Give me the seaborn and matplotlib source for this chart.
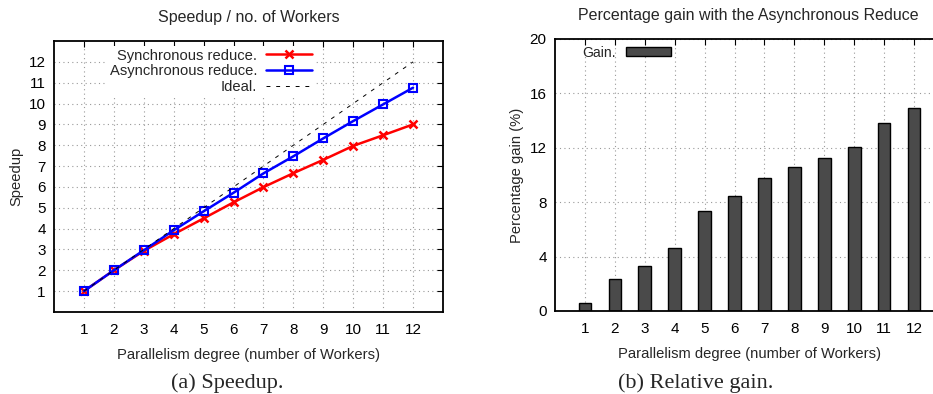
import matplotlib
matplotlib.use("Agg")
import matplotlib.pyplot as plt
import seaborn as sns
import pandas as pd
import numpy as np

workers = [1, 2, 3, 4, 5, 6, 7, 8, 9, 10, 11, 12]
sync_speedup = [1.0, 2.0, 2.93, 3.73, 4.49, 5.26, 5.99, 6.66, 7.30, 7.97, 8.48, 9.0]
async_speedup = [1.0, 2.0, 2.96, 3.92, 4.83, 5.72, 6.65, 7.47, 8.33, 9.16, 9.96, 10.76]
ideal = [1, 2, 3, 4, 5, 6, 7, 8, 9, 10, 11, 12]
gain = [0.59, 2.35, 3.33, 4.61, 7.33, 8.43, 9.75, 10.59, 11.23, 12.04, 13.80, 14.90]

sns.set_theme(style="white")
plt.rcParams['font.family'] = ['Liberation Sans', 'DejaVu Sans']

fig = plt.figure(figsize=(9.33, 3.94), dpi=100)
ax1 = fig.add_axes([54/933, 82/394, 389/933, 271/394])
ax2 = fig.add_axes([555/933, 83/394, 389/933, 272/394])

fs_tick = 11
fs_lab = 10.6
fs_title = 11.5

def style_axes(ax):
    for s in ax.spines.values():
        s.set_visible(True)
        s.set_color('black')
        s.set_linewidth(1.3)
    ax.tick_params(direction='in', length=4, width=0.8, top=True, right=True,
                   labelsize=fs_tick, colors='black', pad=6)
    ax.tick_params(axis='x', pad=8)
    ax.grid(True, color='#999999', linestyle=(0, (1, 3)), linewidth=0.8)
    ax.set_axisbelow(True)

# Left: speedup
df = pd.DataFrame({'w': workers, 'sync': sync_speedup, 'async': async_speedup, 'ideal': ideal})
sns.lineplot(data=df, x='w', y='sync', ax=ax1, color='#ff0000', linewidth=1.8,
             marker='x', markersize=6, markeredgewidth=1.8, markeredgecolor='#ff0000',
             label='Synchronous reduce.')
sns.lineplot(data=df, x='w', y='async', ax=ax1, color='#0000ff', linewidth=1.8,
             marker='s', markersize=6.3, markeredgewidth=1.5, markerfacecolor='none',
             markeredgecolor='#0000ff', label='Asynchronous reduce.')
sns.lineplot(data=df, x='w', y='ideal', ax=ax1, color='black', linewidth=0.7,
             linestyle=(0, (4, 6)), label='Ideal.')
ax1.set_xlim(0, 13)
ax1.set_ylim(0, 13)
ax1.set_xticks(workers)
ax1.set_yticks(list(range(1, 13)))
style_axes(ax1)
ax1.set_xlabel('Parallelism degree (number of Workers)', fontsize=fs_lab, labelpad=8)
ax1.set_ylabel('Speedup', fontsize=fs_lab, labelpad=4)
ax1.set_title('Speedup / no. of Workers', fontsize=fs_title, pad=14)
leg = ax1.legend(loc='upper right', bbox_to_anchor=((322 - 54) / 389, 1.01), markerfirst=False,
                 frameon=True, facecolor='white', edgecolor='none', framealpha=1,
                 fontsize=fs_lab, handlelength=3.1, labelspacing=0.12, borderpad=0.2,
                 handletextpad=0.6)
leg._legend_box.align = 'right'

# Right: gain bars
dg = pd.DataFrame({'w': workers, 'gain': gain})
sns.barplot(data=dg, x='w', y='gain', ax=ax2, native_scale=True, width=0.42,
            color='#4a4a4a', saturation=1, edgecolor='black', linewidth=1.0,
            label='Gain.')
ax2.set_xlim(0, 13)
ax2.set_ylim(0, 20)
ax2.set_xticks(workers)
ax2.set_yticks([0, 4, 8, 12, 16, 20])
style_axes(ax2)
ax2.set_xlabel('Parallelism degree (number of Workers)', fontsize=fs_lab, labelpad=8)
ax2.set_ylabel('Percentage gain (%)', fontsize=fs_lab, labelpad=4)
ax2.set_title('Percentage gain with the Asynchronous Reduce', fontsize=fs_title, pad=14,
              x=(748-555)/389)
leg2 = ax2.legend(loc='upper left', bbox_to_anchor=(0.045, 1.012), markerfirst=False,
                  frameon=False, fontsize=fs_lab - 0.5, handlelength=3.2, handleheight=0.6,
                  handletextpad=0.7, borderpad=0.2)

fig.text(227/933, 1 - 383/394, '(a) Speedup.', ha='center', va='center',
         fontsize=16, family='Liberation Serif')
fig.text(696/933, 1 - 383/394, '(b) Relative gain.', ha='center', va='center',
         fontsize=16, family='Liberation Serif')

fig.savefig('out.png', dpi=100)
